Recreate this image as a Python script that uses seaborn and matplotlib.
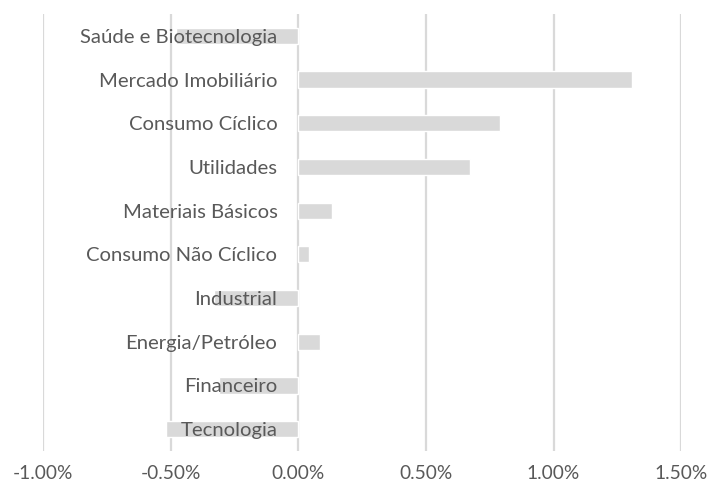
import matplotlib
matplotlib.use("Agg")
import matplotlib.pyplot as plt
import numpy as np
import pandas as pd
import seaborn as sns
from matplotlib.ticker import PercentFormatter

# Setores (de cima para baixo) e retorno em %
setores = ["Saúde e Biotecnologia", "Mercado Imobiliário", "Consumo Cíclico", "Utilidades",
           "Materiais Básicos", "Consumo Não Cíclico", "Industrial", "Energia/Petróleo",
           "Financeiro", "Tecnologia"]
retornos = [-0.48, 1.308, 0.79, 0.672, 0.133, 0.042, -0.33, 0.086, -0.31, -0.52]
ticks_x = [-1.0, -0.5, 0.0, 0.5, 1.0, 1.5]

cinza_barra = "#d9d9d9"
cinza_texto = "#595959"


def main():
    sns.set_theme(style="white")
    plt.rcParams["font.family"] = ["Lato", "DejaVu Sans"]
    plt.rcParams["axes.unicode_minus"] = False

    df = pd.DataFrame({"setor": setores, "retorno": retornos})

    fig = plt.figure(figsize=(7.11, 4.92), dpi=100)
    ax = fig.add_axes([0.0605, 0.0833, 0.8975, 0.8882])

    sns.barplot(data=df, x="retorno", y="setor", orient="h", color=cinza_barra,
                saturation=1, width=0.37, ax=ax, zorder=2)

    ax.set_xlim(-1.0, 1.5)
    ax.set_xticks(ticks_x)
    ax.xaxis.set_major_formatter(PercentFormatter(decimals=2))
    ax.grid(axis="x", color=cinza_barra, linewidth=1.6, zorder=0)
    ax.set_axisbelow(True)

    # rótulos das categorias junto ao zero, por cima das barras
    for s in ["top", "right", "bottom"]:
        ax.spines[s].set_visible(False)
    ax.spines["left"].set_position(("data", 0))
    ax.spines["left"].set_visible(False)
    ax.yaxis.set_zorder(5)

    ax.tick_params(axis="y", length=0, pad=15, labelsize=14.6, labelcolor=cinza_texto)
    ax.tick_params(axis="x", length=0, pad=10, labelsize=13.8, labelcolor=cinza_texto)

    ax.set_xlabel("")
    ax.set_ylabel("")

    fig.savefig("out.png", dpi=100)


if __name__ == "__main__":
    main()
